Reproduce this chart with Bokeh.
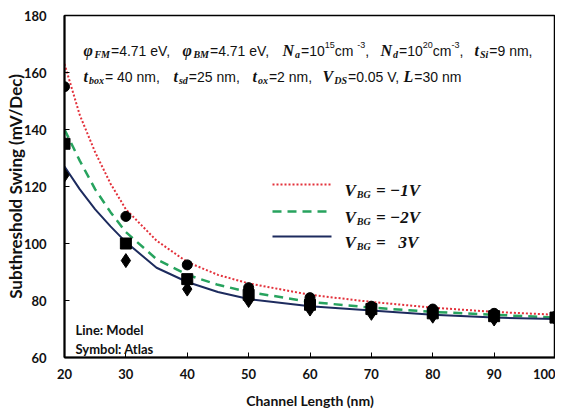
from bokeh.plotting import figure
from bokeh.models import Label, Arrow, Range1d, FixedTicker
from bokeh.embed import file_html
from bokeh.resources import INLINE

# ---------------- data ----------------
channel_length = [20, 30, 40, 50, 60, 70, 80, 90, 100]
atlas_vbg_m1 = [155, 109.5, 92.5, 84.5, 81, 78, 77, 75.5, 74.5]
atlas_vbg_m2 = [135, 100, 87.5, 82, 78.5, 77, 75.5, 74.5, 74]
atlas_vbg_m3 = [124, 94, 84, 80, 77, 75.5, 74.5, 73.5, 73.5]

model_length = [20, 22.5, 25, 27.5, 30, 35, 40, 45, 50, 60, 70, 80, 90, 100]
model_vbg_m1 = [163, 145, 132, 121, 112, 101, 93.5, 89, 86, 82, 79.5, 77.5, 76, 75]
model_vbg_m2 = [140, 129, 119, 111, 104, 94.5, 89, 85.5, 83, 79.5, 77.5, 76, 75, 74]
model_vbg_m3 = [127, 119, 112, 106, 100.5, 91.5, 86.5, 83, 80.5, 78, 76.5, 75, 74, 73.5]

x_ticks = [20, 30, 40, 50, 60, 70, 80, 90, 100]
y_ticks = [60, 80, 100, 120, 140, 160, 180]

NB = "\u00a0"
legend_values = ["= \u22121V", "= \u22122V", "=" + NB * 3 + "3V"]

# ---------------- figure ----------------
p = figure(width=555, height=413, x_range=Range1d(20, 100), y_range=Range1d(60, 180),
           output_backend="svg", toolbar_location=None,
           min_border_left=64, min_border_right=0, min_border_top=15, min_border_bottom=56)
p.grid.visible = False
p.background_fill_color = "white"
p.border_fill_color = "white"
p.outline_line_color = "black"
p.outline_line_width = 1.5

TICK_FONT = "Lato"
for ax in (p.xaxis[0], p.yaxis[0]):
    ax.axis_line_width = 2
    ax.axis_line_color = "black"
    ax.major_tick_in = 5
    ax.major_tick_out = 0
    ax.minor_tick_in = 0
    ax.minor_tick_out = 0
    ax.major_tick_line_color = "black"
    ax.major_label_text_font = TICK_FONT
    ax.major_label_text_font_style = "bold"
    ax.major_label_text_font_size = "13px"
    ax.major_label_text_color = "#111"
    ax.axis_label_text_font = TICK_FONT
    ax.axis_label_text_font_style = "bold"
    ax.axis_label_text_color = "#111"

p.xaxis.ticker = FixedTicker(ticks=x_ticks)
p.yaxis.ticker = FixedTicker(ticks=y_ticks)
p.xaxis.axis_label = "Channel Length (nm)"
p.yaxis.axis_label = "Subthreshold Swing (mV/Dec)"
p.xaxis.axis_label_text_font_size = "14px"
p.yaxis.axis_label_text_font_size = "17px"
p.xaxis.major_label_standoff = 11
p.yaxis.major_label_standoff = 18
p.xaxis.axis_label_standoff = 10
p.yaxis.axis_label_standoff = -5

RED = "#e3313b"
GREEN = "#27a35e"
NAVY = "#1d2b5e"

# model lines
p.line(model_length, model_vbg_m1, line_color=RED, line_width=2, line_dash="2 2")
p.line(model_length, model_vbg_m2, line_color=GREEN, line_width=2.5, line_dash="9 6")
p.line(model_length, model_vbg_m3, line_color=NAVY, line_width=2)

# Atlas symbols
p.scatter(channel_length, atlas_vbg_m1, marker="circle", size=10, color="black")
p.scatter(channel_length, atlas_vbg_m2, marker="square", size=11, color="black")
p.scatter(channel_length, atlas_vbg_m3, marker="diamond", size=14, color="black")

# ---------------- rich text helpers ----------------
FL, FB = 64, 357  # frame left / bottom in page pixels


def sx(px):
    return px - FL


def sy(py):
    return FB - py


W_SANS = {**{d: .556 for d in "0123456789"}, " ": .278, "=": .584, ".": .278, ",": .278,
          "e": .556, "V": .667, "n": .556, "m": .833, "c": .5, "-": .333}
W_SBI = {"N": .722, "V": .667, "L": .611, "t": .278, "\u03c6": .62, "F": .667, "M": .889,
         "B": .667, "a": .5, "d": .5, "S": .556, "i": .278, "b": .5, "o": .5, "x": .5,
         "s": .389, "D": .722, "G": .722, " ": .25, NB: .25, "=": .57, "\u2212": .57,
         "1": .5, "2": .5, "3": .5}
STYLES = {
    "n": dict(font="Liberation Sans", size=14, style="normal", dy=0, table=W_SANS, gap=0),
    "s": dict(font="Liberation Serif", size=16, style="bold italic", dy=0, table=W_SBI, gap=1),
    "b": dict(font="Liberation Serif", size=10, style="bold italic", dy=-4, table=W_SBI, gap=1),
    "p": dict(font="Liberation Sans", size=9, style="normal", dy=6, table=W_SANS, gap=0),
    "L": dict(font="Liberation Serif", size=17, style="bold italic", dy=0, table=W_SBI, gap=2),
    "V": dict(font="Liberation Serif", size=17, style="bold italic", dy=0, table=W_SBI, gap=1),
}


def put_runs(px, py, runs):
    x = px
    for kind, txt in runs:
        st = STYLES[kind]
        p.add_layout(Label(x=sx(x), y=sy(py) + st["dy"], x_units="screen", y_units="screen",
                           text=txt, text_font=st["font"], text_font_size=f'{st["size"]}px',
                           text_font_style=st["style"], text_baseline="alphabetic",
                           text_align="left", text_color="#111"))
        x += sum(st["table"].get(c, .55) for c in txt) * st["size"] + st["gap"]


# parameter text, line 1
L1 = 50
put_runs(83, L1, [("s", "\u03c6"), ("b", "FM"), ("n", "=4.71 eV,")])
put_runs(182, L1, [("s", "\u03c6"), ("b", "BM"), ("n", "=4.71 eV,")])
put_runs(282, L1, [("s", "N"), ("b", "a"), ("n", "=10"), ("p", "15"), ("n", " cm"), ("p", "-3"), ("n", ",")])
put_runs(380, L1, [("s", "N"), ("b", "d"), ("n", "=10"), ("p", "20"), ("n", "cm"), ("p", "-3"), ("n", ",")])
put_runs(474, L1, [("s", "t"), ("b", "Si"), ("n", "=9 nm,")])
# line 2
L2 = 76
put_runs(83, L2, [("s", "t"), ("b", "box"), ("n", "= 40 nm,")])
put_runs(173, L2, [("s", "t"), ("b", "sd"), ("n", "=25 nm,")])
put_runs(252, L2, [("s", "t"), ("b", "ox"), ("n", "=2 nm,")])
put_runs(322, L2, [("s", "V"), ("b", "DS"), ("n", "=0.05 V,")])
put_runs(403, L2, [("s", "L"), ("n", "=30 nm")])

# legend
leg_rows = [(184, RED, 2, "2 2"), (211, GREEN, 2.5, "9 6"), (236, NAVY, 2, "solid")]
for (ly, col, lw, dash), val in zip(leg_rows, legend_values):
    p.add_layout(Arrow(x_start=sx(272), y_start=sy(ly), x_end=sx(331), y_end=sy(ly),
                       start_units="screen", end_units="screen", start=None, end=None,
                       line_color=col, line_width=lw, line_dash=dash))
    put_runs(344, ly + 6, [("V", "V"), ("b", "BG"), ("L", NB + val)])

# notes bottom-left
for txt, py in (("Line: Model", 329), ("Symbol: Atlas", 348)):
    p.add_layout(Label(x=sx(75), y=sy(py), x_units="screen", y_units="screen", text=txt,
                       text_font="Lato", text_font_style="bold", text_font_size="13px",
                       text_color="#111", text_baseline="alphabetic"))

open("out.html", "w").write(file_html(p, INLINE))
